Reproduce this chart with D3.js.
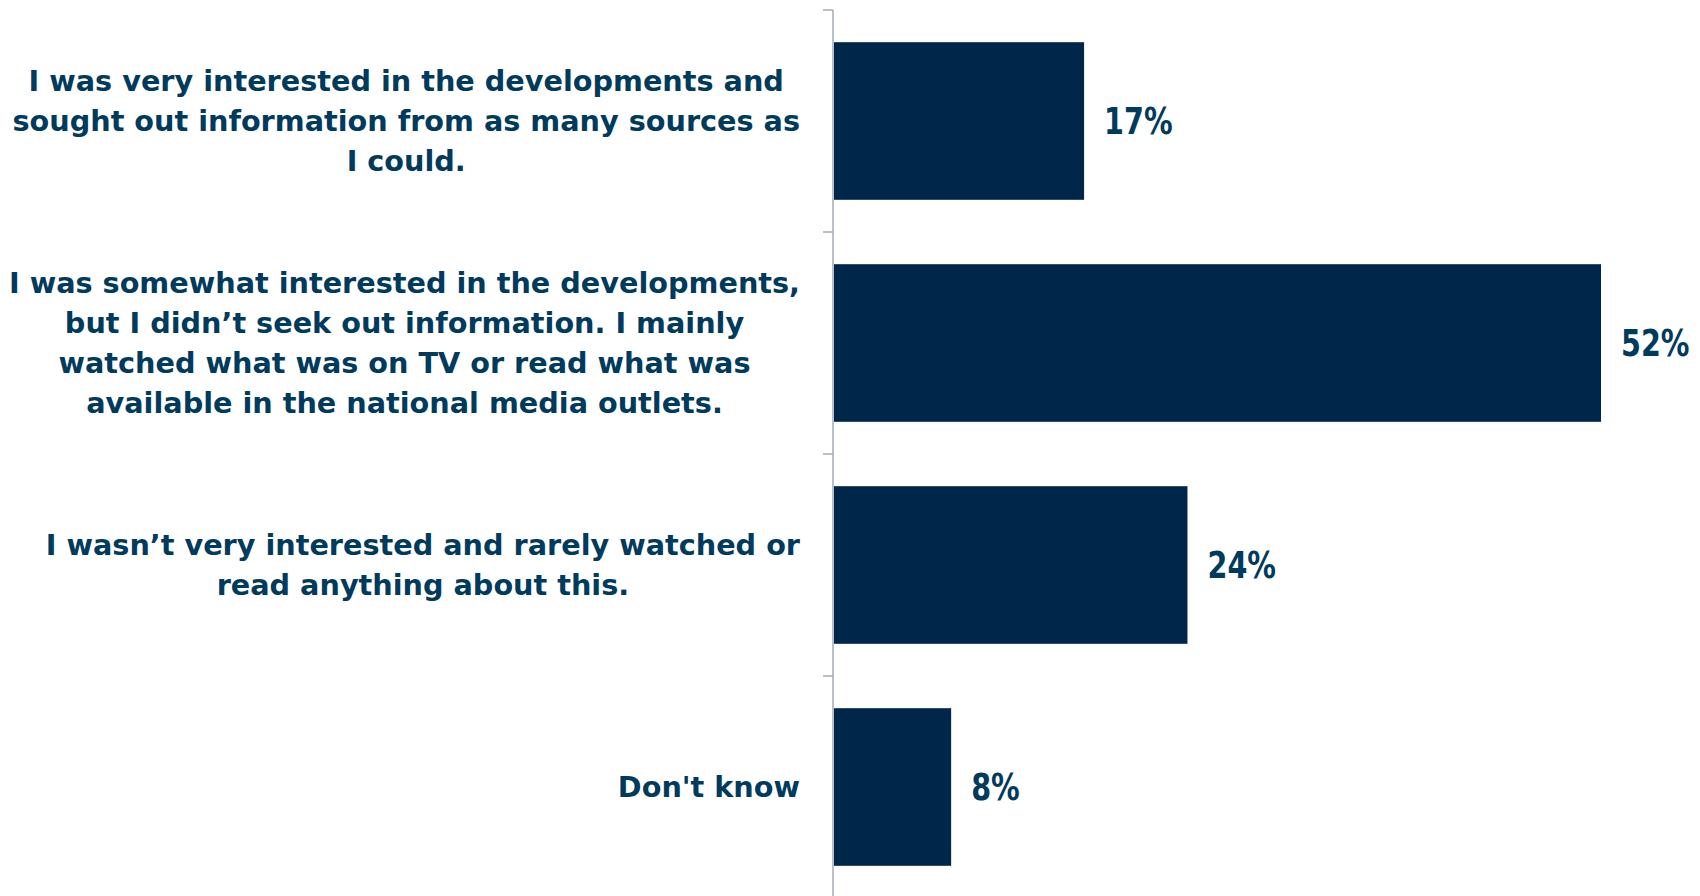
<!DOCTYPE html>
<html>
<head>
<meta charset="utf-8">
<script src="https://cdn.jsdelivr.net/npm/d3@7"></script>
<style>
  body { margin: 0; background: #fff; }
  .label { font-family: "DejaVu Sans", sans-serif; font-weight: bold; fill: #003a5d; }
  .value { font-family: "DejaVu Sans Condensed", "DejaVu Sans", sans-serif; font-weight: bold; fill: #003a5d; }
</style>
</head>
<body>
<svg id="chart" width="1700" height="896"></svg>
<script>
var categories = ["interested", "somewhat", "notVery", "dontKnow"];
var labelLines = [
  ["I was very interested in the developments and", "sought out information from as many sources as", "I could."],
  ["I was somewhat interested in the developments,", "but I didn\u2019t seek out information. I mainly", "watched what was on TV or read what was", "available in the national media outlets."],
  ["I wasn\u2019t very interested and rarely watched or", "read anything about this."],
  ["Don't know"]
];
var values = [17, 52, 24, 8];

var svg = d3.select("#chart");
var axisX = 833, labelRight = 800, lineH = 40;

var x = d3.scaleLinear().domain([0, 52]).range([axisX, 1601]);
var y = d3.scaleBand().domain(categories).range([10, 898])
    .paddingInner(0.29).paddingOuter(0.145);

var data = categories.map(function(c, i) { return {cat: c, value: values[i], lines: labelLines[i]}; });

// axis line + ticks between categories
var gap = y.step() * y.paddingInner();
svg.append("line")
    .attr("x1", axisX).attr("x2", axisX)
    .attr("y1", y.range()[0]).attr("y2", y.range()[1])
    .style("stroke", "#a3abb7").style("stroke-width", 1.5);
svg.selectAll(".tick").data(categories).enter().append("line")
    .attr("class", "tick")
    .attr("x1", axisX - 10).attr("x2", axisX)
    .attr("y1", function(d) { return y(d) - gap / 2; })
    .attr("y2", function(d) { return y(d) - gap / 2; })
    .style("stroke", "#a3abb7").style("stroke-width", 1.5);

// bars
svg.selectAll(".bar").data(data).enter().append("rect")
    .attr("class", "bar")
    .attr("x", x(0) + 1)
    .attr("y", function(d) { return y(d.cat); })
    .attr("width", function(d) { return x(d.value) - x(0) - 1; })
    .attr("height", y.bandwidth())
    .style("fill", "#002749");

// value labels (narrow face: squeeze horizontally)
svg.selectAll(".value").data(data).enter().append("text")
    .attr("class", "value")
    .attr("transform", function(d) {
      return "translate(" + (x(d.value) + 20) + "," + (y(d.cat) + y.bandwidth() / 2) + ") scale(0.86,1)";
    })
    .attr("dy", "0.36em")
    .style("font-size", "37px")
    .text(function(d) { return d.value + "%"; });

// category labels: block right-aligned, lines centred inside block
data.forEach(function(d) {
  var g = svg.append("g");
  var t = g.append("text").attr("class", "label").style("font-size", "28.7px")
      .attr("text-anchor", "middle");
  var cy = y(d.cat) + y.bandwidth() / 2;
  var n = d.lines.length;
  d.lines.forEach(function(line, i) {
    t.append("tspan").attr("x", 0)
      .attr("y", cy + (i - (n - 1) / 2) * lineH)
      .attr("dy", "0.36em")
      .text(line);
  });
  var w = d3.max(t.selectAll("tspan").nodes(), function(n) { return n.getComputedTextLength(); });
  g.attr("transform", "translate(" + (labelRight - w / 2) + ",0)");
});
</script>
</body>
</html>
